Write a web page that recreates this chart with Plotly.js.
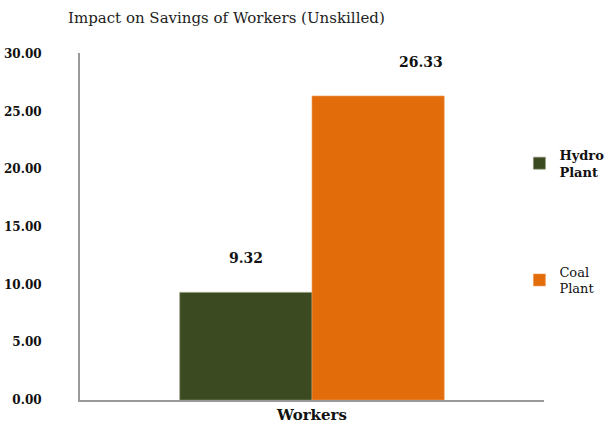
<!DOCTYPE html>
<html>
<head>
<meta charset="utf-8">
<script src="https://cdn.plot.ly/plotly-3.0.1.min.js"></script>
<style>html,body{margin:0;padding:0;background:#fff;}#chart{width:610px;height:423px;}</style>
</head>
<body>
<div id="chart"></div>
<script>
const categories = ["Workers"];
const seriesNames = ["<b>Hydro<br>Plant</b>", "Coal<br>Plant"];
const hydroValues = [9.32];
const coalValues = [26.33];
const seriesColors = ["#3b4a20", "#e36c0a"];

const serif = "DejaVu Serif";
const bargap = 0.43;
const barW = (1 - bargap) / 2;
const labelXShift = [0, 43];

const traces = [hydroValues, coalValues].map((vals, i) => ({
  type: "bar",
  x: categories,
  y: vals,
  name: seriesNames[i],
  legendgroup: "g" + i,
  marker: {color: seriesColors[i], line: {color: i === 0 ? "#8a9270" : "#f0a060", width: 0.6}},
  hoverinfo: "y"
}));

const annotations = [];
[hydroValues, coalValues].forEach((vals, i) => {
  vals.forEach((v, j) => {
    annotations.push({
      xref: "x", yref: "y",
      x: j + (i === 0 ? -barW / 2 : barW / 2),
      y: v,
      text: "<b>" + v.toFixed(2) + "</b>",
      showarrow: false,
      yanchor: "bottom",
      yshift: 24,
      xshift: labelXShift[i],
      font: {family: serif, size: 14, color: "#111"}
    });
  });
});

const layout = {
  width: 610, height: 423,
  margin: {l: 80, r: 66, t: 53, b: 23, autoexpand: false},
  paper_bgcolor: "#fff", plot_bgcolor: "#fff",
  barmode: "group",
  bargap: bargap,
  bargroupgap: 0,
  font: {family: serif},
  title: {
    text: "Impact on Savings of Workers (Unskilled)",
    font: {family: serif, size: 15, color: "#222"},
    x: 68 / 610, xanchor: "left", xref: "container",
    y: 1 - 18 / 423, yanchor: "middle", yref: "container"
  },
  xaxis: {
    type: "category",
    showline: true, linecolor: "#999", linewidth: 2,
    showgrid: false, ticks: "",
    tickfont: {family: serif, size: 15, color: "#111", weight: "bold"},
    fixedrange: true
  },
  yaxis: {
    range: [0, 30.05],
    tickvals: [0, 5, 10, 15, 20, 25, 30],
    tickformat: ".2f",
    showline: true, linecolor: "#999", linewidth: 2,
    showgrid: false, zeroline: false, ticks: "",
    ticklabelstandoff: 34,
    tickfont: {family: serif, size: 12, color: "#111", weight: "bold"},
    fixedrange: true
  },
  showlegend: true,
  legend: {
    x: 0.947, xanchor: "left", y: 0.75, yanchor: "top",
    font: {family: serif, size: 13, color: "#111"},
    tracegroupgap: 80,
    itemwidth: 30,
    bgcolor: "rgba(0,0,0,0)"
  },
  annotations: annotations
};

Plotly.newPlot("chart", traces, layout, {displayModeBar: false, staticPlot: true});
</script>
</body>
</html>
